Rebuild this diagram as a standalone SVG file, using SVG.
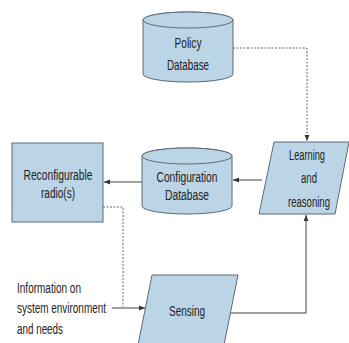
<svg xmlns="http://www.w3.org/2000/svg" width="349" height="343" viewBox="0 0 349 343">
<defs>
<style>
.shape{fill:#bcd5e6;stroke:#5a6a78;stroke-width:1}
.t{font-family:"Liberation Sans",Arial,sans-serif;font-size:14px;fill:#222;text-anchor:middle}
.tl{font-family:"Liberation Sans",Arial,sans-serif;font-size:14px;fill:#222}
.solid{fill:none;stroke:#444;stroke-width:1}
.dot{fill:none;stroke:#666;stroke-width:1;stroke-dasharray:2 1.5}
</style>
<marker id="ah" viewBox="0 0 10 10" refX="10" refY="5" markerWidth="6" markerHeight="6" orient="auto">
<path d="M0,1 L10,5 L0,9 z" fill="#333"/>
</marker>
</defs>
<rect width="349" height="343" fill="#fff"/>
<g id="connectors">
<path class="dot" d="M233,48 H307 V141" marker-end="url(#ah)"/>
<path class="solid" d="M262,180 H233" marker-end="url(#ah)"/>
<path class="solid" d="M142,182 H104" marker-end="url(#ah)"/>
<path class="dot" d="M103,207 H123 V307"/>
<path class="solid" d="M112,308 H145" marker-end="url(#ah)"/>
<path class="solid" d="M228,313 H306 V215" marker-end="url(#ah)"/>
</g>
<g id="policy">
<path class="shape" d="M143,20 V74 A45,8 0 0 0 233,74 V20 A45,8 0 0 0 143,20 Z"/>
<ellipse class="shape" cx="188" cy="20" rx="45" ry="8"/>
<text class="t" x="188" y="48" textLength="27" lengthAdjust="spacingAndGlyphs">Policy</text>
<text class="t" x="188" y="70" textLength="42" lengthAdjust="spacingAndGlyphs">Database</text>
</g>
<g id="radio">
<rect class="shape" x="12" y="143" width="91" height="79"/>
<text class="t" x="58" y="180" textLength="69" lengthAdjust="spacingAndGlyphs">Reconfigurable</text>
<text class="t" x="58" y="198" textLength="34" lengthAdjust="spacingAndGlyphs">radio(s)</text>
</g>
<g id="config">
<path class="shape" d="M142,156 V206 A45,8 0 0 0 232,206 V156 A45,8 0 0 0 142,156 Z"/>
<ellipse class="shape" cx="187" cy="156" rx="45" ry="8"/>
<text class="t" x="187" y="182" textLength="61" lengthAdjust="spacingAndGlyphs">Configuration</text>
<text class="t" x="187" y="200" textLength="44" lengthAdjust="spacingAndGlyphs">Database</text>
</g>
<g id="learning">
<polygon class="shape" points="274,142 349,142 335,214 259,214"/>
<text class="t" x="307" y="160" textLength="36" lengthAdjust="spacingAndGlyphs">Learning</text>
<text class="t" x="309" y="183" textLength="16" lengthAdjust="spacingAndGlyphs">and</text>
<text class="t" x="309" y="207" textLength="42" lengthAdjust="spacingAndGlyphs">reasoning</text>
</g>
<g id="sensing">
<polygon class="shape" points="152,275 238,275 224,345 138,345"/>
<text class="t" x="187" y="316" textLength="36" lengthAdjust="spacingAndGlyphs">Sensing</text>
</g>
<g id="info">
<text class="tl" x="17" y="293" textLength="64" lengthAdjust="spacingAndGlyphs">Information on</text>
<text class="tl" x="17" y="313" textLength="89" lengthAdjust="spacingAndGlyphs">system environment</text>
<text class="tl" x="17" y="334" textLength="46" lengthAdjust="spacingAndGlyphs">and needs</text>
</g>
</svg>
